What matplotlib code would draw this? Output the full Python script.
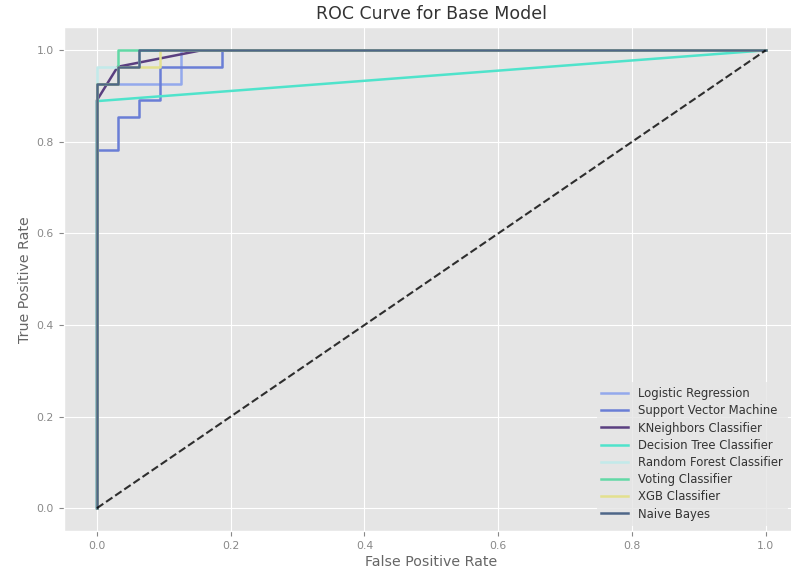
import matplotlib
matplotlib.use("Agg")
import matplotlib.pyplot as plt

plt.style.use("ggplot")

models = ["Logistic Regression", "Support Vector Machine", "KNeighbors Classifier",
          "Decision Tree Classifier", "Random Forest Classifier", "Voting Classifier",
          "XGB Classifier", "Naive Bayes"]
colors = ["#93a9ec", "#6a7ed6", "#5a3f80", "#4fe3cb", "#c2eaea", "#62d9a6", "#e3e08e", "#4e6688"]

fpr_lr = [0, 0, 0.125, 0.125, 1]
tpr_lr = [0, 0.927, 0.927, 1.0, 1.0]
fpr_svm = [0, 0, 0.031, 0.031, 0.0625, 0.0625, 0.094, 0.094, 0.1875, 0.1875, 1]
tpr_svm = [0, 0.782, 0.782, 0.854, 0.854, 0.891, 0.891, 0.964, 0.964, 1.0, 1.0]
fpr_knn = [0, 0, 0.031, 0.156, 1]
tpr_knn = [0, 0.891, 0.964, 1.0, 1.0]
fpr_dt = [0, 0, 1]
tpr_dt = [0, 0.889, 1.0]
fpr_rf = [0, 0, 0.0625, 0.0625, 1]
tpr_rf = [0, 0.964, 0.964, 1.0, 1.0]
fpr_vc = [0, 0, 0.031, 0.031, 1]
tpr_vc = [0, 0.927, 0.927, 1.0, 1.0]
fpr_xgb = [0, 0, 0.031, 0.031, 0.094, 0.094, 1]
tpr_xgb = [0, 0.927, 0.927, 0.964, 0.964, 1.0, 1.0]
fpr_nb = [0, 0, 0.031, 0.031, 0.0625, 0.0625, 1]
tpr_nb = [0, 0.927, 0.927, 0.964, 0.964, 1.0, 1.0]

curves = [(fpr_lr, tpr_lr), (fpr_svm, tpr_svm), (fpr_knn, tpr_knn), (fpr_dt, tpr_dt),
          (fpr_rf, tpr_rf), (fpr_vc, tpr_vc), (fpr_xgb, tpr_xgb), (fpr_nb, tpr_nb)]

fig = plt.figure(figsize=(7.91, 5.71), dpi=100)
fig.patch.set_facecolor("white")
ax = fig.add_axes([0.0803, 0.070, 0.930, 0.882])

for (f, t), name, c in zip(curves, models, colors):
    ax.plot(f, t, color=c, lw=1.8, label=name)
ax.plot([0, 1], [0, 1], "k--", lw=1.5, alpha=0.8)

ax.set_xticks([0, 0.2, 0.4, 0.6, 0.8, 1.0])
ax.set_yticks([0, 0.2, 0.4, 0.6, 0.8, 1.0])
ax.tick_params(labelsize=7.8, colors="#888888")
ax.set_xlabel("False Positive Rate", fontsize=10.2, color="#666666", labelpad=3)
ax.set_ylabel("True Positive Rate", fontsize=10.2, color="#666666", labelpad=3)
ax.set_title("ROC Curve for Base Model", fontsize=12.5, color="#333333", pad=6)
leg = ax.legend(loc="lower right", fontsize=8.4, frameon=True, handlelength=2.3,
                labelspacing=0.36, bbox_to_anchor=(0.9915, 0.0))
leg.get_frame().set_edgecolor("#E5E5E5")
for txt in leg.get_texts():
    txt.set_color("#333333")

fig.savefig("out.png", dpi=100)
